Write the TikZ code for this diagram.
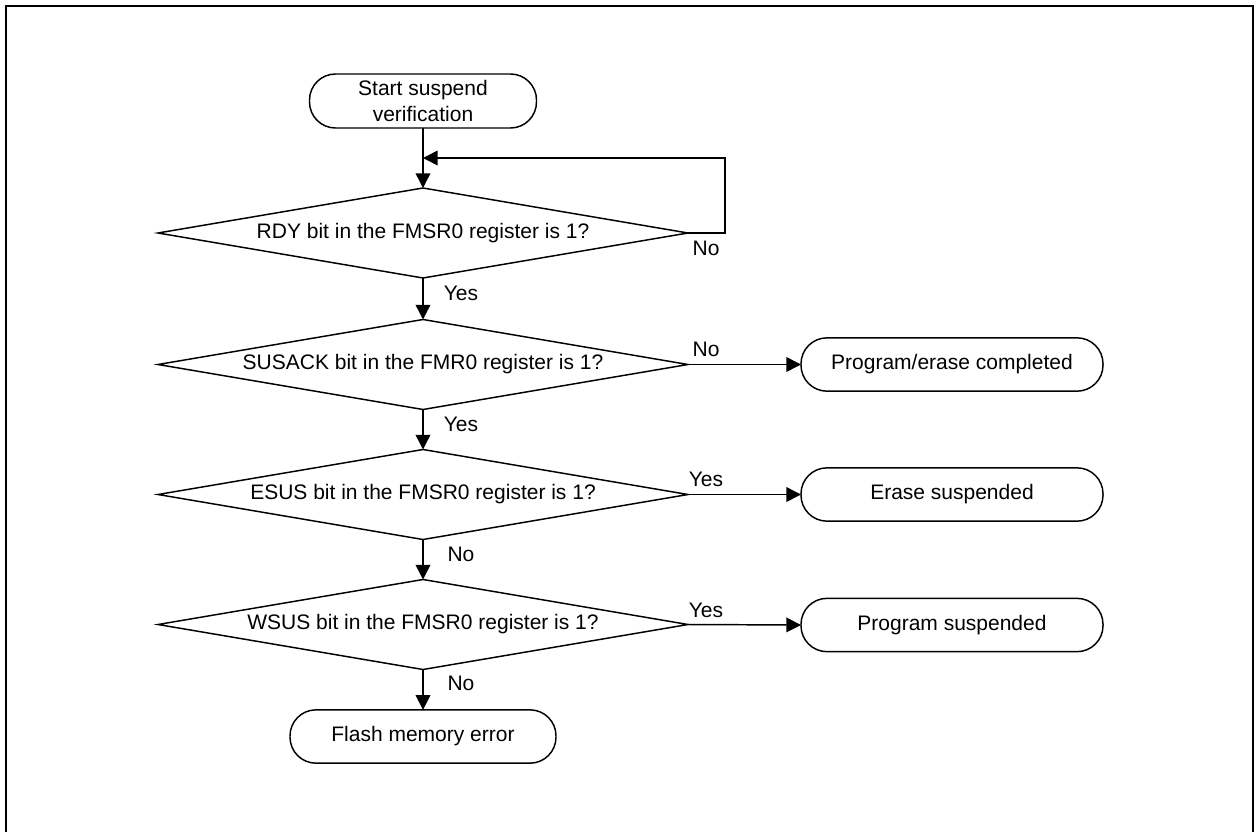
\documentclass[tikz,border=0pt]{standalone}
\usepackage{fontspec}
\setmainfont{Liberation Sans}
\usetikzlibrary{shapes.geometric,arrows.meta}
\tikzset{
  base/.style={draw=black, line width=1.1pt, inner sep=0pt, outer sep=0pt, align=center,
    font=\fontsize{15.75pt}{19pt}\selectfont},
  term/.style={base, rectangle, rounded corners=19.5pt, minimum height=40pt},
  decide/.style={base, diamond, aspect=5.89, minimum width=397.5pt, minimum height=67.5pt},
  conn/.style={line width=1.1pt, -{Triangle[length=11pt,width=11pt]}},
  lbl/.style={inner sep=0pt, font=\fontsize{15.75pt}{19pt}\selectfont}
}
\begin{document}
\begin{tikzpicture}[x=0.75pt,y=0.75pt]
\useasboundingbox (0,0) rectangle (1255,-831);
% outer frame (open at bottom)
\draw[line width=1.8pt] (6,-835) -- (6,-6) -- (1253,-6) -- (1253,-835);

\node[term, minimum width=170.25pt, minimum height=40.5pt] (start) at (423,-101) {Start suspend\\verification};
\node[decide] (d1) at (423,-233) {RDY bit in the FMSR0 register is 1?};
\node[decide] (d2) at (423,-364.5) {SUSACK bit in the FMR0 register is 1?};
\node[decide] (d3) at (423,-494.5) {ESUS bit in the FMSR0 register is 1?};
\node[decide] (d4) at (423,-624.5) {WSUS bit in the FMSR0 register is 1?};
\node[term, minimum width=226.5pt] (pe) at (952,-364.5) {Program/erase completed};
\node[term, minimum width=226.5pt] (es) at (952,-494.5) {Erase suspended};
\node[term, minimum width=226.5pt] (ps) at (952,-625) {Program suspended};
\node[term, minimum width=199.5pt] (fe) at (423,-736.5) {Flash memory error};

\coordinate (lr) at (725,-158);
\coordinate (lj) at (423,-158);

\draw[conn] (start.south) -- (d1.north);
\draw[conn] (d1.east) -| (lr) -- (lj);
\draw[conn] (d1.south) -- (d2.north);
\draw[conn] (d2.south) -- (d3.north);
\draw[conn] (d3.south) -- (d4.north);
\draw[conn] (d4.south) -- (fe.north);
\draw[conn] (d2.east) -- (pe.west);
\draw[conn] (d3.east) -- (es.west);
\draw[conn] (d4.east) -- (ps.west);

\node[lbl] (l1) at (706,-248) {No};
\node[lbl] (l2) at (461,-293) {Yes};
\node[lbl] (l3) at (706,-349) {No};
\node[lbl] (l4) at (461,-424) {Yes};
\node[lbl] (l5) at (706,-479) {Yes};
\node[lbl] (l6) at (461,-554) {No};
\node[lbl] (l7) at (706,-610) {Yes};
\node[lbl] (l8) at (461,-683) {No};
\end{tikzpicture}
\end{document}
